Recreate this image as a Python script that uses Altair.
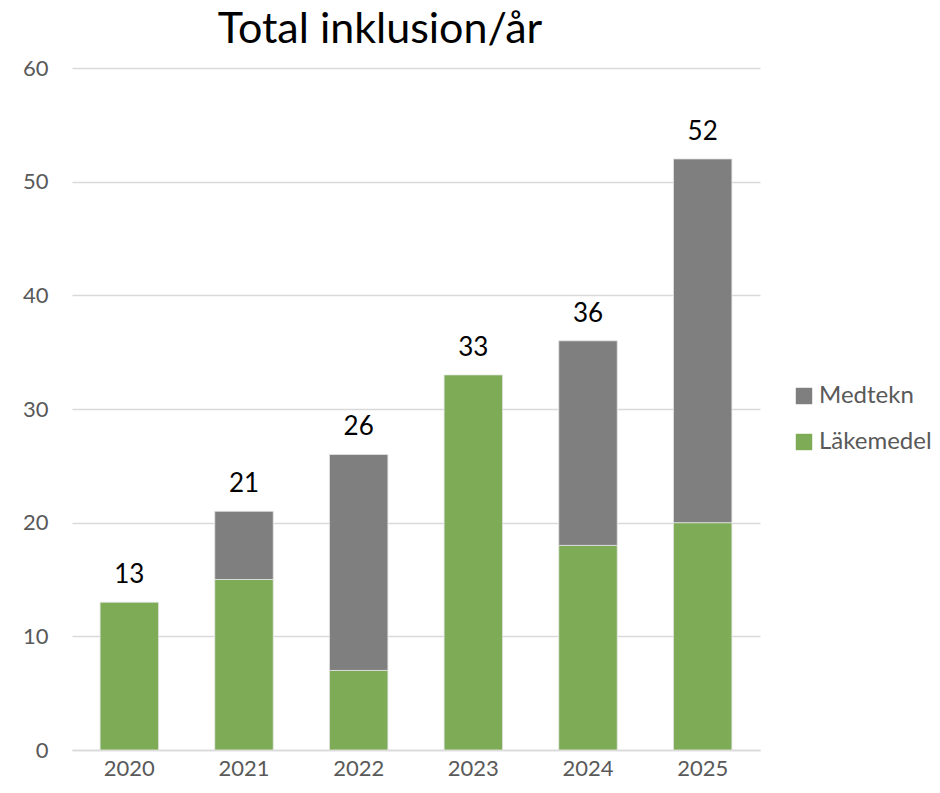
import altair as alt
import pandas as pd

years = ["2020", "2021", "2022", "2023", "2024", "2025"]
lakemedel = [13, 15, 7, 33, 18, 20]
medtekn = [0, 6, 19, 0, 18, 32]
series = ["Medtekn", "Läkemedel"]
colors = ["#7F7F7F", "#7EAB55"]

rows = []
for y, l, m in zip(years, lakemedel, medtekn):
    rows.append({"year": y, "serie": "Läkemedel", "value": l, "ord": 0})
    rows.append({"year": y, "serie": "Medtekn", "value": m, "ord": 1})
df = pd.DataFrame(rows)
df = df[df["value"] > 0]

totals = pd.DataFrame({"year": years, "total": [l + m for l, m in zip(lakemedel, medtekn)]})

FONT = "Lato"

x_enc = alt.X("year:N", title=None, sort=years,
              scale=alt.Scale(paddingInner=0.49, paddingOuter=0.245),
              axis=alt.Axis(labelAngle=0, labelFont=FONT, labelFontSize=22, labelColor="#595959",
                            labelPadding=8, ticks=False, domainColor="#D9D9D9", domainWidth=1.5,
                            grid=False))

bars = alt.Chart(df).mark_bar(stroke="#E6E6E6", strokeWidth=0.8).encode(
    x=x_enc,
    y=alt.Y("value:Q", stack="zero", title=None,
            scale=alt.Scale(domain=[0, 60], nice=False),
            axis=alt.Axis(values=[0, 10, 20, 30, 40, 50, 60], labelFont=FONT, labelFontSize=22,
                          labelColor="#595959", labelPadding=24, ticks=False, domain=False,
                          gridColor="#D9D9D9", gridWidth=1.5)),
    color=alt.Color("serie:N", title=None,
                    scale=alt.Scale(domain=series, range=colors),
                    legend=alt.Legend(orient="none", legendX=720, legendY=316,
                                      symbolType="square", symbolSize=270, symbolStrokeWidth=0,
                                      labelFont=FONT, labelFontSize=24, labelColor="#595959",
                                      labelOffset=3, rowPadding=22, labelLimit=300)),
    order=alt.Order("ord:Q", sort="ascending"),
)

labels = alt.Chart(totals).mark_text(font=FONT, fontSize=26, color="#000000", dy=-14,
                                     baseline="bottom").encode(
    x=alt.X("year:N", sort=years),
    y=alt.Y("total:Q"),
    text=alt.Text("total:Q"),
)

chart = alt.layer(bars, labels).properties(
    width=688, height=682,
    autosize=alt.AutoSizeParams(type="none"),
    padding={"left": 64, "top": 60, "right": 172, "bottom": 35},
    title=alt.TitleParams("Total inklusion/år", font=FONT, fontSize=43, fontWeight="normal",
                          color="#000000", anchor="middle", dx=-36, offset=5),
).configure_view(stroke=None)

chart.save("out.html", embed_options={"renderer": "svg", "actions": False})
